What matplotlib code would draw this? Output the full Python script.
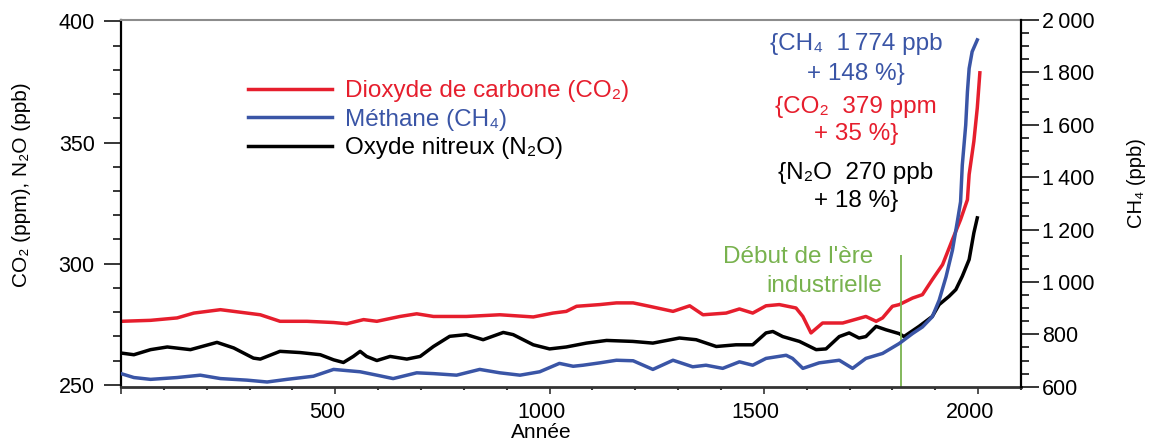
import matplotlib
matplotlib.use("Agg")
import matplotlib.pyplot as plt
import matplotlib.transforms as mtransforms
from matplotlib.ticker import MultipleLocator, FuncFormatter

plt.rcParams["font.family"] = ["Liberation Sans", "DejaVu Sans"]

# CO2 (ppm)
co2_years = [0, 69, 131, 170, 232, 294, 325, 371, 434, 496, 527, 566, 597, 651,
             690, 729, 806, 884, 962, 1008, 1039, 1063, 1117, 1156, 1195, 1233,
             1288, 1327, 1358, 1412, 1443, 1474, 1505, 1536, 1575, 1591, 1610,
             1637, 1684, 1738, 1762, 1777, 1800, 1816, 1847, 1870, 1893, 1917,
             1940, 1959, 1975, 1979, 1990, 1998, 2004]
co2_ppm = [276.2, 276.6, 277.6, 279.6, 281.0, 279.6, 278.9, 276.2, 276.2, 275.7,
           275.2, 276.9, 276.2, 278.2, 279.3, 278.2, 278.2, 278.9, 278.0, 279.6,
           280.3, 282.4, 283.1, 283.8, 283.8, 282.4, 280.3, 282.6, 278.9, 279.6,
           281.3, 279.6, 282.6, 283.1, 281.7, 278.2, 271.4, 275.5, 275.5, 278.2,
           276.2, 277.6, 282.4, 283.1, 285.8, 287.2, 293.4, 299.6, 309.9, 318.2,
           326.4, 336.8, 350.5, 364.3, 378.8]

# N2O (ppb)
n2o_years = [0, 30, 69, 108, 162, 224, 263, 309, 325, 371, 418, 465, 496, 519,
             542, 558, 573, 597, 628, 667, 698, 729, 767, 806, 845, 892, 915,
             962, 1000, 1039, 1086, 1133, 1194, 1241, 1303, 1342, 1389, 1435,
             1474, 1505, 1521, 1544, 1583, 1622, 1645, 1676, 1699, 1722, 1738,
             1762, 1785, 1816, 1827, 1862, 1893, 1909, 1932, 1948, 1963, 1979,
             1990, 1998]
n2o_ppb = [263.1, 262.4, 264.5, 265.6, 264.5, 267.5, 265.2, 261.0, 260.6, 263.8,
           263.3, 262.4, 260.3, 259.2, 261.7, 263.8, 261.7, 260.0, 261.7, 260.6,
           261.7, 265.8, 270.0, 270.7, 268.6, 271.6, 270.7, 266.5, 264.8, 265.6,
           267.2, 268.3, 267.9, 267.2, 269.3, 268.6, 265.8, 266.5, 266.5, 271.4,
           272.0, 269.9, 267.9, 264.5, 264.8, 269.9, 271.4, 269.3, 269.9, 274.1,
           272.7, 271.1, 269.9, 274.1, 278.2, 283.1, 286.5, 289.3, 294.8, 301.7,
           312.7, 318.9]

# CH4 (ppb), right axis
ch4_years = [0, 30, 69, 131, 185, 232, 294, 341, 387, 449, 496, 558, 597, 635,
             690, 729, 783, 837, 884, 931, 977, 1023, 1055, 1078, 1117, 1156,
             1195, 1241, 1288, 1334, 1365, 1404, 1443, 1474, 1505, 1552, 1567,
             1591, 1629, 1676, 1707, 1738, 1777, 1816, 1847, 1870, 1893, 1909,
             1925, 1940, 1952, 1959, 1963, 1971, 1975, 1979, 1986, 1998]
ch4_ppb = [650, 635, 628, 635, 644, 631, 625, 618, 628, 640, 666, 657, 644, 631,
           653, 650, 644, 666, 653, 644, 657, 689, 678, 682, 691, 701, 699, 666,
           701, 676, 682, 670, 695, 682, 708, 720, 708, 670, 691, 701, 670, 708,
           727, 765, 803, 828, 867, 930, 1019, 1121, 1236, 1306, 1446, 1599,
           1726, 1815, 1879, 1924]

industrial_start = 1820

RED = "#e61e2d"
BLUE = "#3a55a6"
GREEN = "#78b24e"

W, H = 1152, 443
fig = plt.figure(figsize=(W / 100, H / 100), dpi=100)


def px(x, y):
    return x / W, 1 - y / H


ax = fig.add_axes([121 / W, 1 - 386.7 / H, 900 / W, 366.7 / H])
ax2 = ax.twinx()

l_co2, = ax.plot(co2_years, co2_ppm, color=RED, lw=2.5,
                 label="Dioxyde de carbone (CO\u2082)")
l_n2o, = ax.plot(n2o_years, n2o_ppb, color="black", lw=2.5,
                 label="Oxyde nitreux (N\u2082O)")
ax.vlines(industrial_start, 249, 303.7, color=GREEN, lw=1.3)
l_ch4, = ax2.plot(ch4_years, ch4_ppb, color=BLUE, lw=2.5,
                  label="Méthane (CH\u2084)")

ax.set_xlim(0, 2100)
ax.set_ylim(249.2, 400.6)
ax2.set_ylim(600, 2000)

ax.xaxis.set_major_locator(MultipleLocator(500))
ax.xaxis.set_minor_locator(MultipleLocator(100))
ax.xaxis.set_major_formatter(FuncFormatter(lambda v, p: "" if v == 0 else f"{v:.0f}"))
ax.yaxis.set_major_locator(MultipleLocator(50))
ax.yaxis.set_minor_locator(MultipleLocator(10))
ax2.yaxis.set_major_locator(MultipleLocator(200))
ax2.yaxis.set_minor_locator(MultipleLocator(50))
ax2.yaxis.set_major_formatter(
    FuncFormatter(lambda v, p: f"{v:,.0f}".replace(",", "\u2009")))

ax.tick_params(axis="x", which="major", length=5, width=1.2, labelsize=15.5,
               pad=6, color="#333333")
ax.tick_params(axis="x", which="minor", length=2.5, width=1.5, color="#333333")
ax.tick_params(axis="y", which="major", length=12, width=1.1, labelsize=15.5, pad=7)
ax.tick_params(axis="y", which="minor", length=6, width=1.1)
ax2.tick_params(axis="y", which="major", length=13, width=1.1, labelsize=15.5, pad=2)
ax2.tick_params(axis="y", which="minor", length=6, width=1.1)

shift = mtransforms.ScaledTranslation(-8 / 100, 0, fig.dpi_scale_trans)
for lab in ax.get_xticklabels():
    lab.set_transform(lab.get_transform() + shift)

for s in ("top", "bottom", "left"):
    ax2.spines[s].set_visible(False)
ax.spines["right"].set_visible(False)
ax.spines["top"].set_color("#8c8c8c")
ax.spines["top"].set_linewidth(1.5)
ax.spines["bottom"].set_color("#333333")
ax.spines["bottom"].set_linewidth(2)
ax.spines["left"].set_linewidth(1.6)
ax2.spines["right"].set_linewidth(1.6)

leg = ax2.legend(handles=[l_co2, l_ch4, l_n2o], loc="upper left",
                 bbox_to_anchor=px(248, 80), bbox_transform=fig.transFigure,
                 frameon=False, fontsize=17.5, handlelength=3.45,
                 handletextpad=0.53, labelspacing=0.27, borderpad=0,
                 borderaxespad=0)
for txt, c in zip(leg.get_texts(), [RED, BLUE, "black"]):
    txt.set_color(c)

notes = [
    ("{CH\u2084  1\u2009774 ppb", 50, BLUE),
    ("+ 148 %}", 80, BLUE),
    ("{CO\u2082  379 ppm", 112.7, RED),
    ("+ 35 %}", 140, RED),
    ("{N\u2082O  270 ppb", 179.3, "black"),
    ("+ 18 %}", 206.7, "black"),
]
for s, yb, c in notes:
    fig.text(*px(856, yb), s, color=c, ha="center", va="baseline", fontsize=17.5)

fig.text(*px(798, 263.3), "Début de l'ère", color=GREEN, ha="center",
         va="baseline", fontsize=17.5)
fig.text(*px(824, 291.7), "industrielle", color=GREEN, ha="center",
         va="baseline", fontsize=17.5)

fig.text(*px(22, 185), "CO\u2082 (ppm), N\u2082O (ppb)", rotation=90,
         ha="center", va="center", fontsize=15)
fig.text(*px(1137, 183), "CH\u2084 (ppb)", rotation=90, ha="center",
         va="center", fontsize=14.5)
fig.text(*px(541, 442), "Année", ha="center", va="bottom", fontsize=15)

fig.savefig("out.png", dpi=100)
